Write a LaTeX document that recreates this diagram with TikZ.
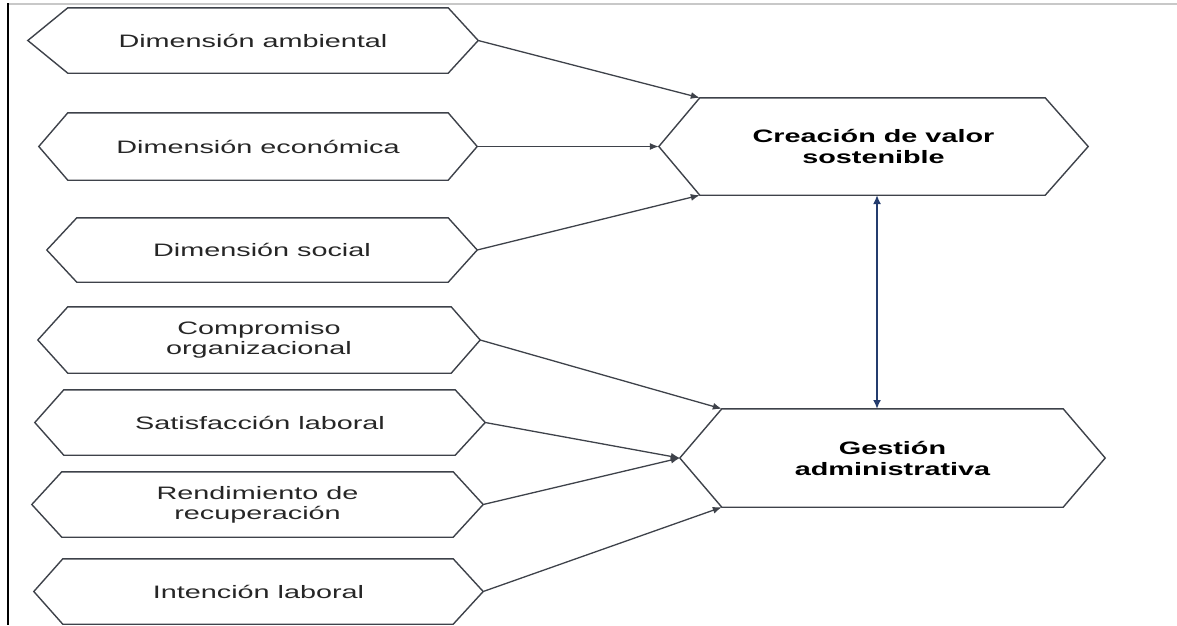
\documentclass[tikz,border=0pt]{standalone}
\usepackage{fontspec}
\setmainfont{Liberation Sans}[FakeStretch=1.6]
\usetikzlibrary{arrows.meta}
\definecolor{edge}{RGB}{62,66,74}
\definecolor{navy}{RGB}{36,60,110}
\definecolor{txt}{RGB}{38,38,38}
\newcommand\hexframe[3]{%
  \draw[hexline] (#1.west) -- ([xshift=#2]#1.north west) -- ([xshift=-#3]#1.north east)
    -- (#1.east) -- ([xshift=-#3]#1.south east) -- ([xshift=#2]#1.south west) -- cycle;
  \coordinate (#1-nw) at ([xshift=#2]#1.north west);
  \coordinate (#1-sw) at ([xshift=#2]#1.south west);
  \coordinate (#1-n) at (#1.north);
  \coordinate (#1-s) at (#1.south);}
\tikzset{
  hexline/.style={draw=edge, line width=1.4pt, line join=miter},
  hexnode/.style={rectangle, draw=none, inner sep=0pt, align=center, text=txt,
    font=\fontsize{18}{20}\selectfont},
  bighex/.style={hexnode, text=black, font=\fontsize{18}{21}\selectfont\bfseries},
  arr/.style={draw=edge, line width=1.3pt, -{Latex[length=9pt,width=7pt]}},
  dbl/.style={draw=navy, line width=2pt, {Latex[length=9pt,width=8pt]}-{Latex[length=9pt,width=8pt]}},
}
\begin{document}
\begin{tikzpicture}[x=1pt, y=-1pt]
\useasboundingbox (0,0) rectangle (1177,625);
% frame lines
\draw[draw={rgb,255:red,200;green,200;blue,200}, line width=1.5pt] (8,4) -- (1177,4);
\draw[black, line width=2.5pt] (8,3) -- (8,625);
% left hexagons
\node[hexnode, minimum width=450pt, minimum height=65pt] (h1) at (253,40.5) {Dimensión ambiental};
\hexframe{h1}{40}{30}
\node[hexnode, minimum width=438pt, minimum height=67pt] (h2) at (258,146.5) {Dimensión económica};
\hexframe{h2}{29}{29}
\node[hexnode, minimum width=430pt, minimum height=64pt] (h3) at (262,250) {Dimensión social};
\hexframe{h3}{30}{29}
\node[hexnode, minimum width=442pt, minimum height=66pt] (h4) at (259,340) {Compromiso\\organizacional};
\hexframe{h4}{30}{29}
\node[hexnode, minimum width=450pt, minimum height=65pt] (h5) at (260,422.5) {Satisfacción laboral};
\hexframe{h5}{29}{30}
\node[hexnode, minimum width=451pt, minimum height=65pt] (h6) at (257.5,504.5) {Rendimiento de\\recuperación};
\hexframe{h6}{30}{30}
\node[hexnode, minimum width=449pt, minimum height=65pt] (h7) at (258.5,591.5) {Intención laboral};
\hexframe{h7}{29}{30}
% right hexagons
\node[bighex, minimum width=429pt, minimum height=97pt] (cv) at (873.5,146.5) {Creación de valor\\sostenible};
\hexframe{cv}{41}{43}
\node[bighex, minimum width=425pt, minimum height=98pt] (ga) at (892.5,458) {Gestión\\administrativa};
\hexframe{ga}{42}{42}
% connectors
\draw[arr] (h1.east) -- (cv-nw);
\draw[arr] (h2.east) -- (cv.west);
\draw[arr] (h3.east) -- (cv-sw);
\draw[arr] (h4.east) -- (ga-nw);
\draw[arr] (h5.east) -- (ga.west);
\draw[arr] (h6.east) -- (ga.west);
\draw[arr] (h7.east) -- (ga-sw);
\coordinate (dtop) at (877,195);
\coordinate (dbot) at (877,409);
\draw[dbl] (dtop) -- (dbot);
\end{tikzpicture}
\end{document}
